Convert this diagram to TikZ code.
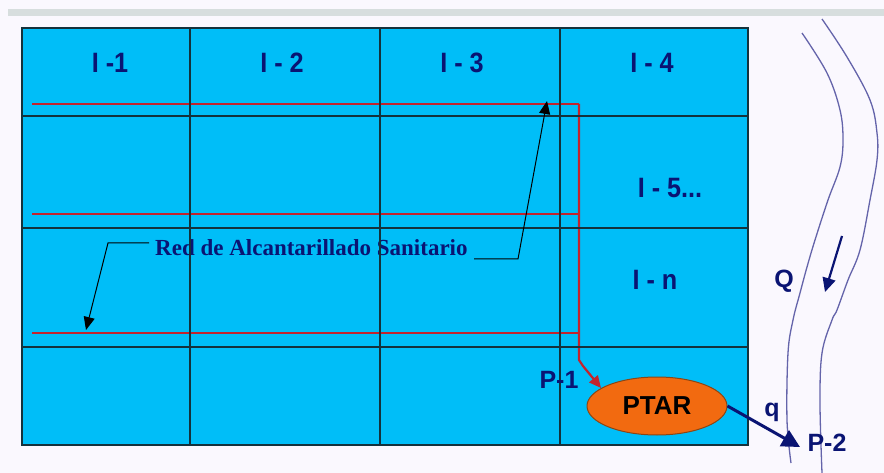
\documentclass[tikz,border=0pt]{standalone}
\usepackage{fontspec}
\setmainfont{Liberation Sans}
\newfontfamily\serifbold{Liberation Serif}
\newfontfamily\condsans[FakeStretch=0.9]{Liberation Sans}
\usetikzlibrary{shapes.geometric,arrows.meta}
\definecolor{bgcol}{RGB}{250,248,254}
\definecolor{cellfill}{RGB}{0,190,248}
\definecolor{gridcol}{RGB}{20,50,60}
\definecolor{netred}{RGB}{195,35,45}
\definecolor{navy}{RGB}{10,20,115}
\definecolor{rivercol}{RGB}{100,100,170}
\definecolor{ptarfill}{RGB}{242,106,16}
\definecolor{ptaredge}{RGB}{140,70,20}
\definecolor{bandcol}{RGB}{215,222,222}
\tikzset{
  zonelabel/.style={text=navy,font=\condsans\fontsize{28}{30}\selectfont\bfseries,inner sep=0pt},
  pointlabel/.style={text=navy,font=\fontsize{25}{27}\selectfont\bfseries,inner sep=0pt},
  gridline/.style={draw=gridcol,line width=1.3pt},
  netline/.style={draw=netred,line width=2.2pt},
  leader/.style={draw=black,line width=1pt,-{Triangle[length=13pt,width=11pt]}},
  riverline/.style={draw=rivercol,line width=1.3pt},
}
\begin{document}
\begin{tikzpicture}[x=1pt,y=-1pt]
\useasboundingbox (0,0) rectangle (884,473);
\fill[bgcol] (0,0) rectangle (884,473);
\fill[bandcol] (8,9) rectangle (884,16);

% blocks
\fill[cellfill] (22,28) rectangle (748,445);

% zone labels
\node[zonelabel] (i1) at (110,63) {I -1};
\node[zonelabel] (i2) at (282,63) {I - 2};
\node[zonelabel] (i3) at (462,63) {I - 3};
\node[zonelabel] (i4) at (652,63) {I - 4};
\node[zonelabel] (i5) at (670,188) {I - 5...};
\node[zonelabel] (in) at (655,280) {I - n};

% network label
\node[text=navy,font=\serifbold\fontsize{23}{25}\selectfont\bfseries,inner sep=0pt,anchor=base west] (red) at (155,256) {Red de Alcantarillado Sanitario};

% sewer network
\draw[netline] (32,104) -- (579,104);
\draw[netline] (32,214) -- (579,214);
\draw[netline] (32,333) -- (579,333);
\coordinate (p1tip) at (601,388);
\draw[netline,-{Triangle[length=12pt,width=11pt]}] (579,104) -- (579,360) -- (583,366) -- (p1tip);

% grid
\draw[gridline] (22,28) rectangle (748,445);
\foreach \x in {190,380,560} \draw[gridline] (\x,28) -- (\x,445);
\foreach \y in {116,228,347} \draw[gridline] (22,\y) -- (748,\y);

% leaders
\coordinate (lt) at (86,330);
\coordinate (rt) at (547,101);
\draw[leader] (149,243) -- (108,243) -- (lt);
\draw[leader] (474,259) -- (518,259) -- (rt);

% PTAR
\node[ellipse,draw=ptaredge,line width=1pt,fill=ptarfill,minimum width=140pt,minimum height=58pt,inner sep=0pt,font=\fontsize{26}{28}\selectfont\bfseries] (ptar) at (657,406) {PTAR};

\node[pointlabel] (p1) at (559,380) {P-1};

% river
\draw[riverline] plot[smooth,tension=0.6] coordinates {(802,33) (827,73) (840,110) (843,140) (840,167) (828,200) (815,240) (807,267) (800,293) (793,320) (788,353) (787,420) (791,463)};
\draw[riverline] plot[smooth,tension=0.6] coordinates {(822,19) (847,57) (870,100) (877,133) (877,160) (870,200) (860,250) (848,280) (837,310) (832,320) (822,353) (820,403) (822,473)};

\coordinate (qs) at (842,236);
\coordinate (qe) at (825,292);
\draw[draw=navy,line width=2.2pt,-{Triangle[length=14pt,width=13pt]}] (qs) -- (qe);
\node[pointlabel] (Q) at (784,281) {Q};

% discharge
\coordinate (p2tip) at (800,447);
\draw[draw=navy,line width=3pt,-{Triangle[length=18pt,width=18pt]}] (ptar.east) -- (p2tip);
\node[pointlabel] (q) at (772,412) {q};
\node[pointlabel] (p2) at (827,443) {P-2};
\end{tikzpicture}
\end{document}
